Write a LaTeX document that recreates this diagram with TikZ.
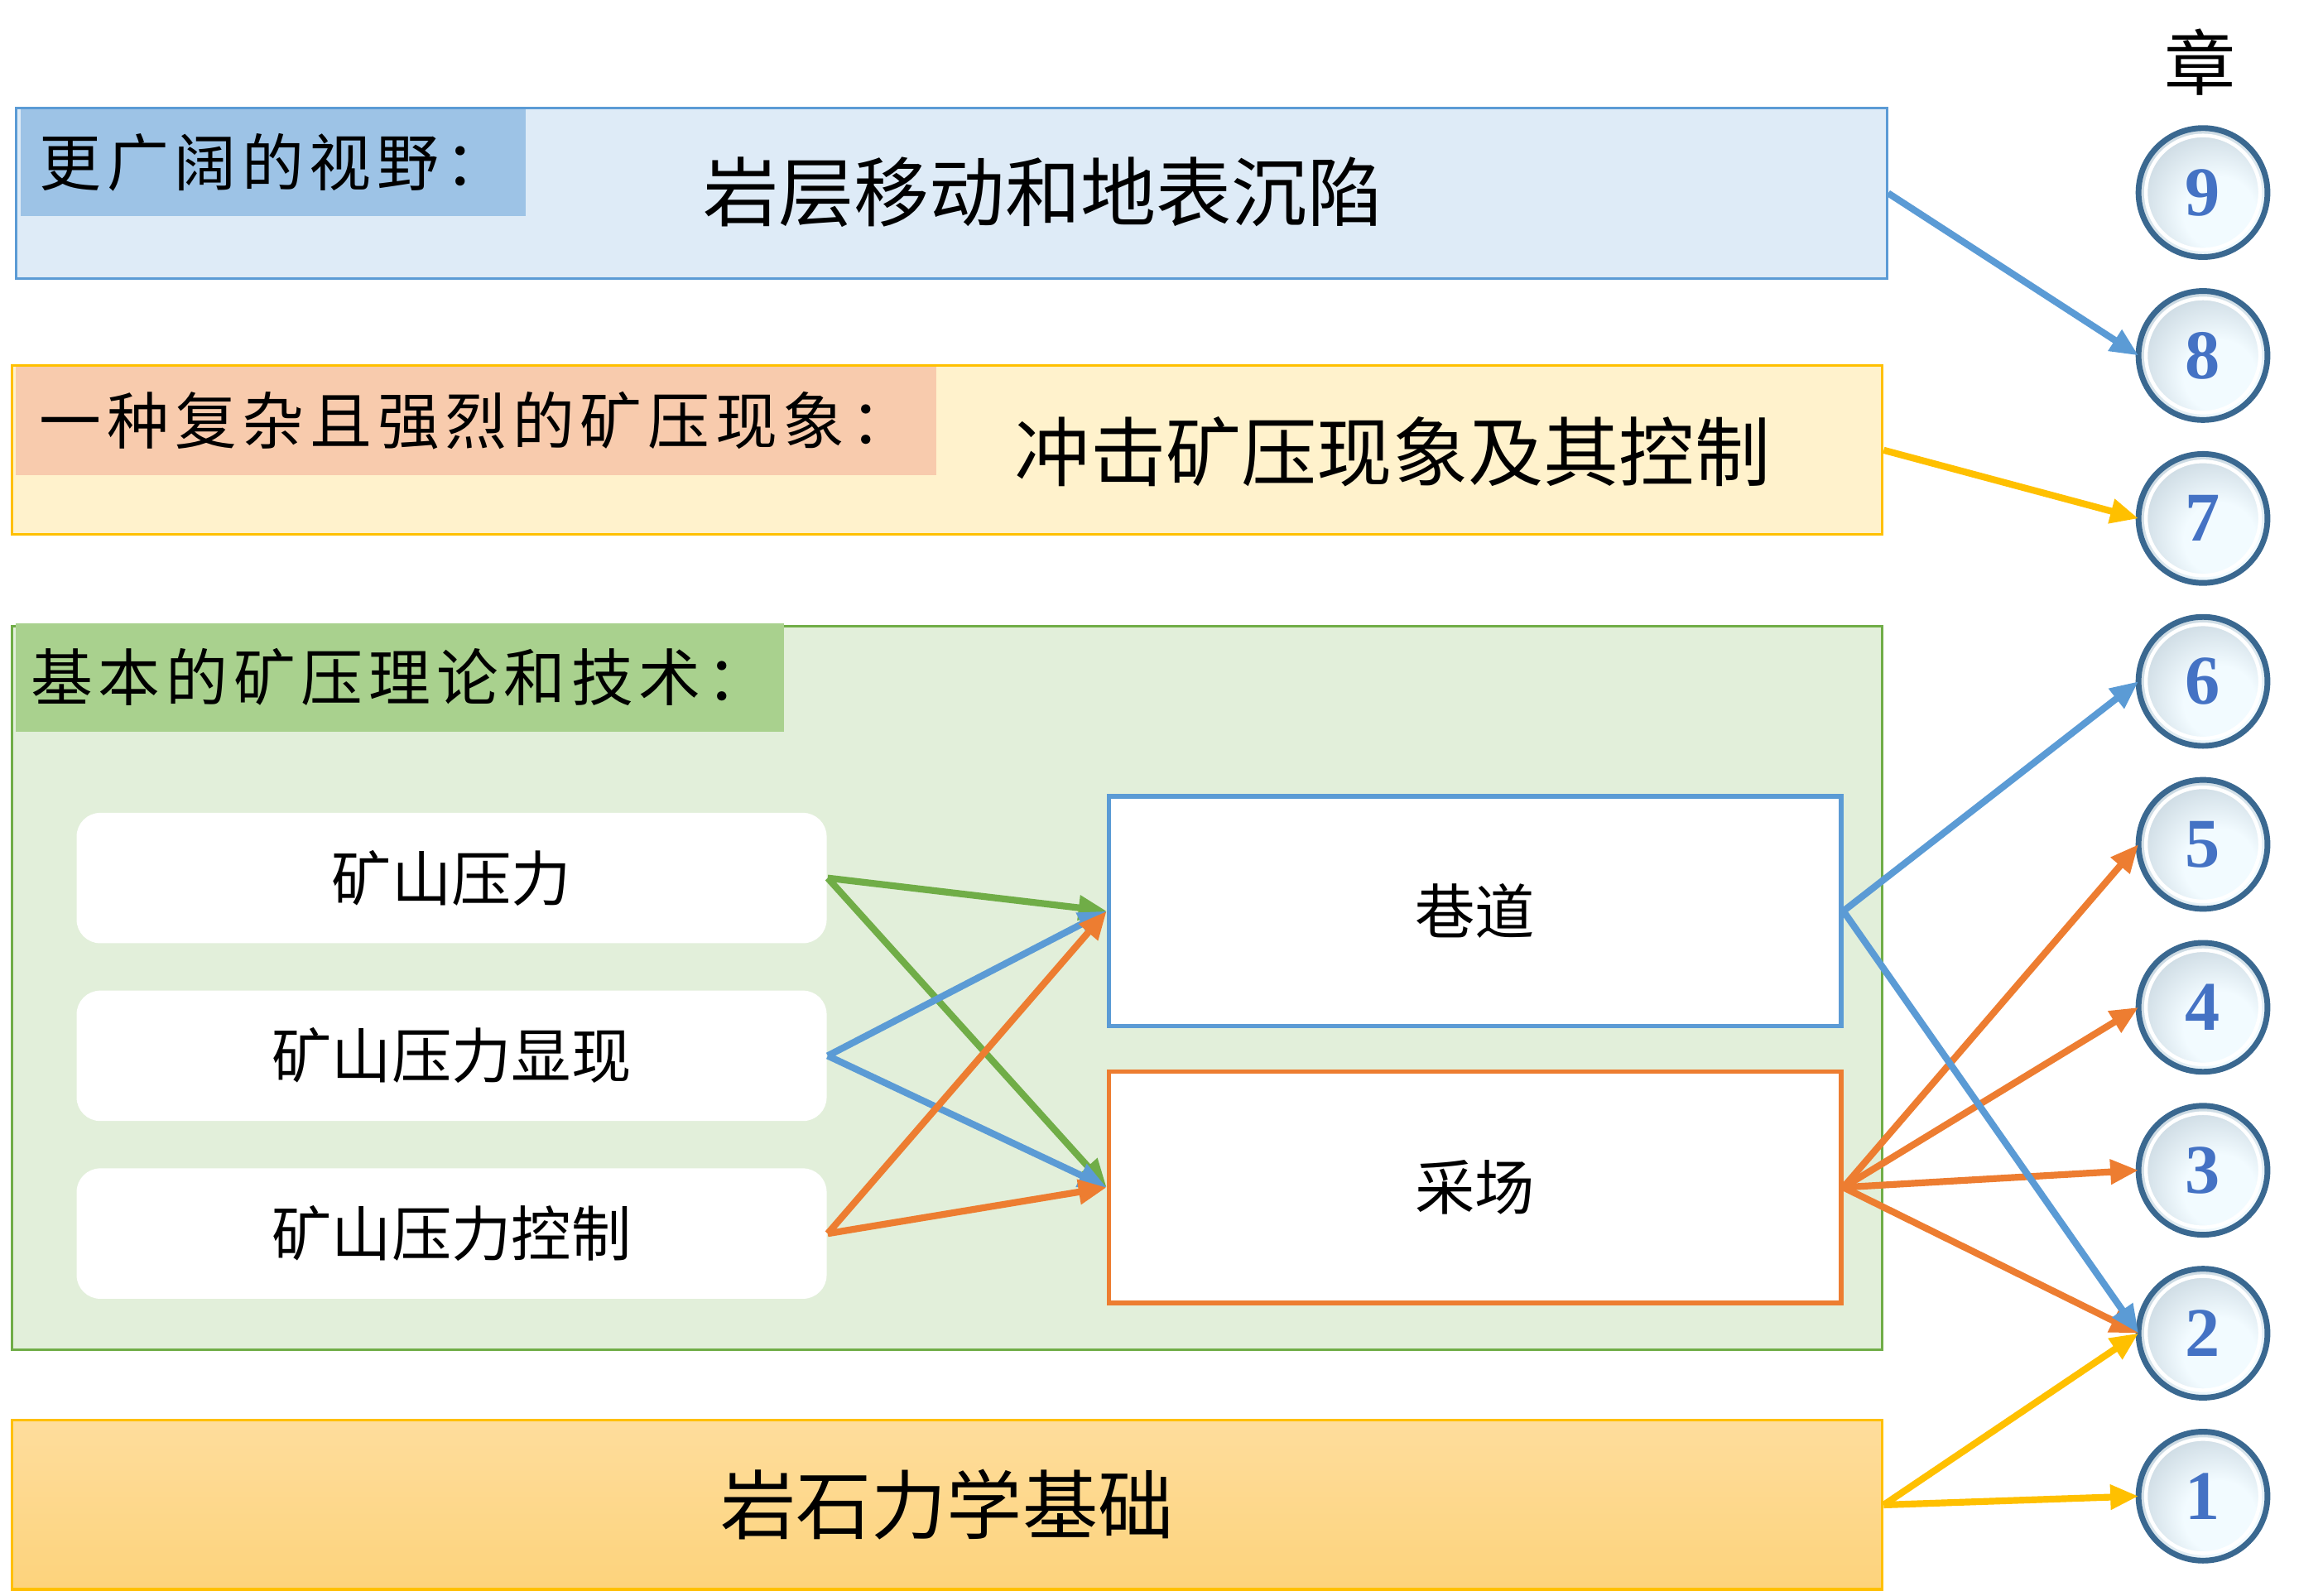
\documentclass[tikz,border=0pt]{standalone}
\usepackage{fontspec}
\setmainfont{Noto Sans CJK SC}
\newfontfamily\headfont[LetterSpace=9]{Noto Sans CJK SC}
\newfontfamily\numfont{Liberation Serif}
\usetikzlibrary{arrows.meta}

\definecolor{lineblue}{HTML}{5B9BD5}
\definecolor{sightfill}{HTML}{DEEBF7}
\definecolor{sighthead}{HTML}{9DC3E6}
\definecolor{gold}{HTML}{FFC000}
\definecolor{burstfill}{HTML}{FFF2CC}
\definecolor{bursthead}{HTML}{F8CBAD}
\definecolor{leaf}{HTML}{70AD47}
\definecolor{theoryfill}{HTML}{E2EFDA}
\definecolor{theoryhead}{HTML}{A9D18E}
\definecolor{rust}{HTML}{ED7D31}
\definecolor{rocktop}{HTML}{FEDD9C}
\definecolor{rockbot}{HTML}{FDD37C}
\definecolor{numblue}{HTML}{4472C4}
\definecolor{rim}{HTML}{3A6890}
\definecolor{glasslight}{HTML}{F2FBFF}
\definecolor{glassdark}{HTML}{A9BBC8}

\pgfdeclareradialshading{glass}{\pgfpoint{9bp}{-11bp}}{color(0bp)=(glasslight); color(14bp)=(glasslight); color(44bp)=(glassdark); color(50bp)=(glassdark)}

\newcommand\bigtxt{\fontsize{14.5}{16}\selectfont}
\newcommand\midtxt{\fontsize{11.5}{13}\selectfont}
\newcommand\headtxt{\headfont\fontsize{11.9}{13}\selectfont}

\begin{document}
\begin{tikzpicture}[x=0.01cm, y=-0.01cm,
    box/.style={draw, anchor=north west, inner sep=0pt, line width=0.5pt},
    head/.style={anchor=north west, inner sep=0pt, font=\headtxt},
    item/.style={anchor=north west, fill=white, rounded corners=0.16cm, minimum width=5.06cm, minimum height=0.88cm, inner sep=0pt, font=\midtxt},
    work/.style={draw, anchor=north west, fill=white, line width=0.85pt, minimum width=4.94cm, minimum height=1.55cm, inner sep=0pt, font=\midtxt},
    chap/.style={circle, minimum size=0.87cm, inner sep=0pt, outer sep=0pt, shading=glass, draw=rim, line width=1.1pt, text=numblue, font=\numfont\bfseries\fontsize{13.4}{14}\selectfont,
        path picture={\draw[white, line width=0.7pt] (path picture bounding box.center) circle (0.385cm);}},
    arr/.style={-{Triangle[length=0.19cm,width=0.16cm]}, line width=1.3pt}]

    \useasboundingbox (0,0) rectangle (1568,1077);

    \node[box, draw=lineblue, fill=sightfill, minimum width=12.62cm, minimum height=1.15cm] (sight) at (10,72) {};
    \node[head, fill=sighthead, minimum width=3.41cm, minimum height=0.72cm] (sighthead) at (13,73) {更广阔的视野：};
    \node[font=\bigtxt] (sighttxt) at (704,130) {岩层移动和地表沉陷};

    \node[box, draw=gold, fill=burstfill, minimum width=12.62cm, minimum height=1.14cm] (burst) at (7,246) {};
    \node[head, fill=bursthead, minimum width=6.21cm, minimum height=0.73cm] (bursthead) at (10,247) {一种复杂且强烈的矿压现象：};
    \node[font=\bigtxt] (bursttxt) at (940,305) {冲击矿压现象及其控制};

    \node[box, draw=leaf, fill=theoryfill, minimum width=12.62cm, minimum height=4.88cm] (theory) at (7,422) {};
    \node[head, fill=theoryhead, minimum width=5.18cm, minimum height=0.73cm] (theoryhead) at (10,420) {基本的矿压理论和技术：};

    \node[item] (press) at (51,548) {矿山压力};
    \node[item] (show) at (51,668) {矿山压力显现};
    \node[item] (ctrl) at (51,788) {矿山压力控制};

    \node[work, draw=lineblue] (road) at (747,536) {巷道};
    \node[work, draw=rust, minimum height=1.56cm] (face) at (747,722) {采场};

    \node[box, draw=gold, top color=rocktop, bottom color=rockbot, minimum width=12.62cm, minimum height=1.14cm, font=\bigtxt] (rock) at (7,958) {岩石力学基础};

    \node[font=\fontsize{13.7}{15}\selectfont] (zhang) at (1485,42) {章};

    \foreach \k in {1,...,9}
    {
        \node[chap] (c\k) at (1487,{130+110*(9-\k)}) {\k};
    }

    \foreach \s/\c in {press/leaf, show/lineblue, ctrl/rust}
    {
        \draw[arr, \c] (\s.east) -- (road.west);
        \draw[arr, \c] (\s.east) -- (face.west);
    }

    \draw[arr, lineblue] (sight.east) -- (c8.west);
    \draw[arr, gold] (burst.east) -- (c7.west);

    \draw[arr, lineblue] (road.east) -- (c6.west);
    \foreach \k in {5,4,3,2}
    {
        \draw[arr, rust] (face.east) -- (c\k.west);
    }
    \draw[arr, lineblue] (road.east) -- (c2.west);

    \draw[arr, gold] (rock.east) -- (c2.west);
    \draw[arr, gold] (rock.east) -- (c1.west);

\end{tikzpicture}
\end{document}
